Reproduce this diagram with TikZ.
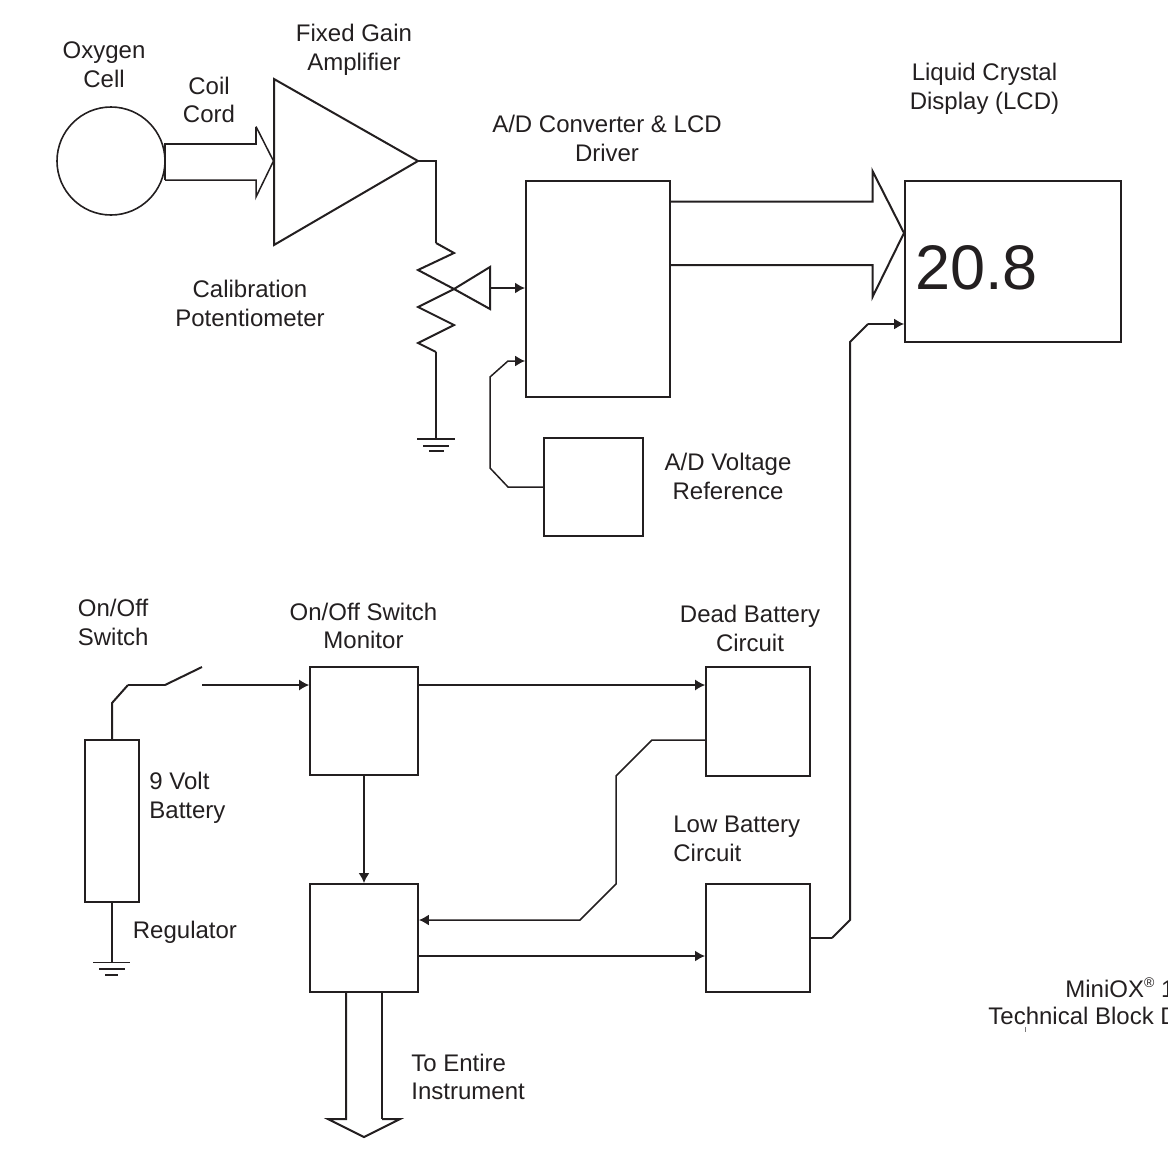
\documentclass[tikz,border=0pt]{standalone}
\usepackage{fontspec}
\setmainfont{Liberation Sans}
\usetikzlibrary{arrows.meta}
\definecolor{ink}{HTML}{231F20}
\tikzset{
  thickw/.style={draw=ink,line width=1pt,line join=miter},
  midw/.style={draw=ink,line width=0.75pt,line join=miter},
  thinw/.style={draw=ink,line width=0.55pt,line join=miter},
  arrowed/.style={-{Latex[length=5pt,width=5.5pt]}},
  block/.style={draw=ink,line width=0.9pt,inner sep=0pt},
  lbl/.style={text=ink,align=center,inner sep=0pt,font=\fontsize{12}{14.4}\selectfont},
  lbll/.style={lbl,align=left,anchor=west},
}
\begin{document}
\begin{tikzpicture}[x=0.5pt,y=-0.5pt]
\useasboundingbox (0,0) rectangle (1168,1168);
% blocks
\node[block,circle,minimum size=54pt,line width=0.8pt] (cell) at (111,161) {};
\node[block,minimum width=72pt,minimum height=108pt] (ad) at (598,289) {};
\node[block,minimum width=108pt,minimum height=80.5pt] (lcd) at (1013,261.5) {};
\node[block,minimum width=49.5pt,minimum height=49pt] (ref) at (593.5,487) {};
\node[block,minimum width=27.25pt,minimum height=81pt,line width=0.8pt] (bat) at (112,821) {};
\node[block,minimum width=54pt,minimum height=54pt] (mon) at (364,721) {};
\node[block,minimum width=54pt,minimum height=54pt] (reg) at (364,938) {};
\node[block,minimum width=52pt,minimum height=54.5pt] (dead) at (758,721.5) {};
\node[block,minimum width=52pt,minimum height=54pt] (low) at (758,938) {};
% amplifier
\coordinate (ampout) at (418,161);
\draw[thickw] (274,79) -- (ampout) -- (274,245) -- cycle;
% coil cord hollow arrow
\coordinate (coilt) at (165,143.5);
\coordinate (coilb) at (165,180);
\draw[thickw] (coilb) -- (coilt) -- (256,143.5) -- (256,126.5);
\draw[midw] (256,126.5) -- (273.5,161) -- (256,197) -- (256,180) -- (coilb);
% potentiometer
\coordinate (wiper) at (454,289);
\draw[thinw] (ampout) -- (436,161) -- (436,243);
\draw[thickw] (436,243) -- (454,253) -- (418,270) -- (wiper) -- (418,307) -- (454,325) -- (418,343) -- (436,352);
\coordinate (gnda) at (436,439);
\draw[thinw] (436,352) -- (gnda);
\draw[thickw] (417,439) -- (455,439);
\draw[thickw] (423,445.5) -- (449,445.5);
\draw[thinw] (429,451) -- (444,451);
\draw[thickw] (wiper) -- (490,267) -- (490,309) -- cycle;
\draw[thickw,arrowed] (490,288) -- (ad.west |- 0,288);
% reference
\draw[midw,arrowed] (ref.west) -- (508,487) -- (490,468) -- (490,377) -- (508,361) -- (ad.west |- 0,361);
% A/D to LCD hollow arrow
\draw[thickw] (ad.east |- 0,201.5) -- (872.5,201.5) -- (872.5,171) -- (904,233) -- (872.5,297) -- (872.5,265) -- (ad.east |- 0,265);
% low battery to LCD
\coordinate (lowk) at (832,938);
\coordinate (lcdk) at (868,324);
\draw[thinw] (low.east |- 0,938) -- (lowk);
\draw[thickw] (lowk) -- (850,920) -- (850,342) -- (lcdk);
\draw[midw,arrowed] (lcdk) -- (lcd.west |- 0,324);
% switch
\coordinate (swfree) at (202,685);
\draw[thickw] (bat.north) -- (112,703) -- (128,685);
\draw[thinw] (128,685) -- (165,685);
\draw[thickw] (165,685) -- (202,667);
\draw[thinw,arrowed] (swfree) -- (mon.west |- swfree);
\draw[thinw,arrowed] (mon.east |- swfree) -- (dead.west |- swfree);
\draw[thickw,arrowed] (mon.south) -- (reg.north);
\draw[midw,arrowed] (dead.west |- 0,740) -- (652,740) -- (616,776) -- (616,884) -- (580,920) -- (reg.east |- 0,920);
\draw[thickw,arrowed] (reg.east |- 0,956) -- (low.west |- 0,956);
% battery ground
\coordinate (gndb) at (112,962.5);
\draw[thickw] (bat.south) -- (gndb);
\draw[thinw] (93,962.5) -- (130,962.5);
\draw[thickw] (99,968.5) -- (125,968.5);
\draw[thickw] (105,974.5) -- (118,974.5);
% to entire instrument hollow arrow
\draw[thickw] (346,992) -- (346,1119) -- (328,1119) -- (364,1137) -- (400,1119) -- (382,1119);
\draw[thinw] (382,1119) -- (382,992);
% tick
\draw[draw=ink!60,line width=0.3pt] (1025,1027) -- (1025,1032);
% labels
\node[lbl] (t1) at (104,64.5) {Oxygen\\Cell};
\node[lbl] (t2) at (354,50) {Fixed Gain\\Amplifier};
\node[lbl] (t3) at (209,100) {Coil\\Cord};
\node[lbl] (t4) at (984.5,88.5) {Liquid Crystal\\Display (LCD)};
\node[lbl] (t5) at (607,138.5) {A/D Converter \& LCD\\Driver};
\node[lbl] (t6) at (250,303.5) {Calibration\\Potentiometer};
\node[lbl] (t7) at (728,476.5) {A/D Voltage\\Reference};
\node[lbll] (t8) at (77.5,622.5) {On/Off\\Switch};
\node[lbl] (t9) at (363.5,626) {On/Off Switch\\Monitor};
\node[lbl] (t10) at (750,628.5) {Dead Battery\\Circuit};
\node[lbll] (t11) at (149,798) {9 Volt\\Battery};
\node[lbll] (t12) at (673,839) {Low Battery\\Circuit};
\node[lbll] (t13) at (132.5,932) {Regulator};
\node[lbll] (t14) at (411,1077) {To Entire\\Instrument};
\node[lbll] (t15) at (1065,988) {MiniOX\raisebox{0.42em}{\fontsize{7}{8}\selectfont®} 1};
\node[lbll] (t16) at (988,1016) {Technical Block D};
\node[lbll,font=\fontsize{31.5}{36}\selectfont] (t17) at (915,268) {20.8};
\end{tikzpicture}
\end{document}
